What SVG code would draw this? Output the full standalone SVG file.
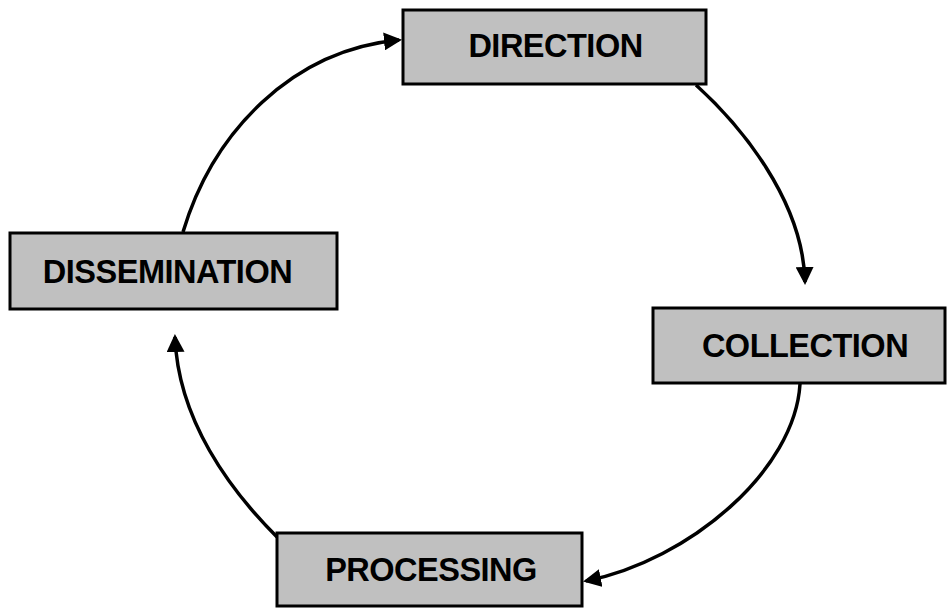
<svg xmlns="http://www.w3.org/2000/svg" width="947" height="608" viewBox="0 0 947 608">
<style>
.box{fill:#c0c0c0;stroke:#000;stroke-width:3}
.lbl{font-family:"Liberation Sans",Arial,sans-serif;font-weight:bold;font-size:32.5px;letter-spacing:-0.5px;fill:#000;text-anchor:middle}
.arc{fill:none;stroke:#000;stroke-width:3.5}
</style>
<defs>
<marker id="ah" markerUnits="userSpaceOnUse" markerWidth="18" markerHeight="18" viewBox="0 0 18 18" refX="15" refY="9" orient="auto">
<path d="M0,0 L18,9 L0,18 z" fill="#000"/>
</marker>
</defs>
<rect width="947" height="608" fill="#fff"/>
<g id="connectors">
<path class="arc" marker-end="url(#ah)" d="M183,232 C213,132 292,50 399,40"/>
<path class="arc" marker-end="url(#ah)" d="M696,85 C740,125 803,200 805,282"/>
<path class="arc" marker-end="url(#ah)" d="M800,384 C795,470 690,560 586,581"/>
<path class="arc" marker-end="url(#ah)" d="M277,537 C230,490 178,420 175,337"/>
</g>
<g id="direction">
<rect class="box" x="403" y="10" width="303" height="74"/>
<text class="lbl" x="555.5" y="57">DIRECTION</text>
</g>
<g id="collection">
<rect class="box" x="653" y="308" width="292" height="75"/>
<text class="lbl" x="805" y="357">COLLECTION</text>
</g>
<g id="processing">
<rect class="box" x="277" y="533" width="305" height="73"/>
<text class="lbl" x="431" y="581">PROCESSING</text>
</g>
<g id="dissemination">
<rect class="box" x="10" y="233" width="327" height="76"/>
<text class="lbl" x="167.5" y="283">DISSEMINATION</text>
</g>
</svg>
